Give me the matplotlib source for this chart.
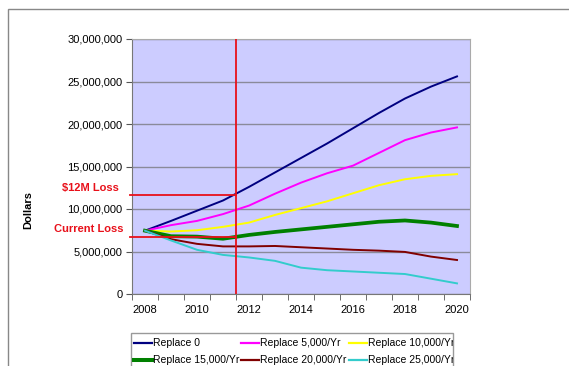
import matplotlib
matplotlib.use("Agg")
import matplotlib.pyplot as plt
from matplotlib.patches import Rectangle
from matplotlib.lines import Line2D
from matplotlib.ticker import FuncFormatter
from matplotlib.transforms import Bbox, TransformedBbox
import numpy as np

plt.rcParams['font.family'] = ['Liberation Sans', 'DejaVu Sans']

years = [2008, 2009, 2010, 2011, 2012, 2013, 2014, 2015, 2016, 2017, 2018, 2019, 2020]

# millions of dollars
replace_0 = [7.45, 8.6, 9.8, 11.0, 12.6, 14.3, 16.0, 17.7, 19.5, 21.3, 23.0, 24.4, 25.6]
replace_5k = [7.45, 8.1, 8.6, 9.4, 10.4, 11.8, 13.1, 14.2, 15.1, 16.6, 18.1, 19.0, 19.6]
replace_10k = [7.45, 7.35, 7.5, 7.9, 8.4, 9.3, 10.1, 10.9, 11.85, 12.8, 13.5, 13.9, 14.1]
replace_15k = [7.45, 6.8, 6.75, 6.5, 6.95, 7.3, 7.6, 7.9, 8.2, 8.5, 8.65, 8.4, 8.0]
replace_20k = [7.45, 6.45, 5.9, 5.6, 5.6, 5.65, 5.5, 5.35, 5.2, 5.1, 4.95, 4.4, 4.0]
replace_25k = [7.45, 6.3, 5.2, 4.6, 4.3, 3.9, 3.1, 2.8, 2.65, 2.5, 2.35, 1.8, 1.25]

labels = ['Replace 0', 'Replace 5,000/Yr', 'Replace 10,000/Yr',
          'Replace 15,000/Yr', 'Replace 20,000/Yr', 'Replace 25,000/Yr']
colors = ['#000080', '#FF00FF', '#FFFF00', '#008000', '#800000', '#33CCCC']
widths = [1.4, 1.4, 1.4, 2.7, 1.4, 1.4]
series = [replace_0, replace_5k, replace_10k, replace_15k, replace_20k, replace_25k]

loss_12m = 11.65e6
current_loss = 6.65e6
cut_year = 2011.5

W, H = 569, 366
fig = plt.figure(figsize=(W / 100, H / 100), dpi=100)

# outer chart border (cropped on right / bottom)
fig.patches.append(Rectangle((8 / W, -0.2), 1.2, 1 - 9 / H + 0.2, transform=fig.transFigure,
                             fill=False, edgecolor='#888888', lw=1))

ax = fig.add_axes([132 / W, 1 - 294 / H, (470 - 132) / W, (294 - 39) / H])
ax.set_facecolor('#CCCCFF')

x = np.arange(len(years))
for vals, lab, c, lw in zip(series, labels, colors, widths):
    ax.plot(x, np.array(vals) * 1e6, color=c, lw=lw, label=lab, zorder=3)

ax.set_xlim(-0.5, len(years) - 0.5)
ax.set_ylim(0, 30e6)
ax.set_yticks(np.arange(0, 30e6 + 1, 5e6))
ax.yaxis.set_major_formatter(FuncFormatter(lambda v, p: '{:,.0f}'.format(v)))
ax.yaxis.grid(True, color='#8a8a9a', lw=1)
ax.set_axisbelow(True)

ax.set_xticks(x[::2])
ax.set_xticklabels([str(y) for y in years[::2]])
ax.set_xticks(np.arange(-0.5, len(years)), minor=True)
ax.tick_params(axis='x', which='major', length=0, pad=8, labelsize=8)
ax.tick_params(axis='x', which='minor', length=4, color='#555555')
ax.tick_params(axis='y', length=4, pad=3, labelsize=8, color='#555555')

for s in ['top', 'right']:
    ax.spines[s].set_color('#aaaaaa')
for s in ['left', 'bottom']:
    ax.spines[s].set_color('#777777')

ax.set_ylabel('Dollars', fontsize=8, fontweight='bold')
ax.yaxis.set_label_coords(-99 / (470 - 132), 0.33)

# red marker lines
red = '#E8101A'
cut_x = years.index(2011) + (cut_year - 2011)
ax.axvline(cut_x, color=red, lw=1.3, zorder=4)
ax.plot([-0.58, cut_x], [loss_12m, loss_12m], color=red, lw=1.3, zorder=4, clip_on=False)
ax.plot([-0.58, cut_x], [current_loss, current_loss], color=red, lw=1.3, zorder=4, clip_on=False)

fig.text(119 / W, 1 - 188 / H, '$12M Loss', color=red, fontsize=8, fontweight='bold',
         ha='right', va='center')
fig.text(124 / W, 1 - 229 / H, 'Current Loss', color=red, fontsize=8, fontweight='bold',
         ha='right', va='center')

# legend box (cropped at bottom)
lx0, lx1, ly0 = 131, 453, 333
fig.patches.append(Rectangle((lx0 / W, -0.2), (lx1 - lx0) / W, 1 - ly0 / H + 0.2,
                             transform=fig.transFigure, fill=True, facecolor='white',
                             edgecolor='#999999', lw=1))
clip = TransformedBbox(Bbox.from_extents(lx0 / W, 0, lx1 / W, 1 - ly0 / H), fig.transFigure)
col_x = [134, 241, 349]
row_y = [343, 360]
for i, (lab, c, lw) in enumerate(zip(labels, colors, widths)):
    cx = col_x[i % 3]
    ry = 1 - row_y[i // 3] / H
    fig.lines.append(Line2D([cx / W, (cx + 18) / W], [ry, ry], transform=fig.transFigure,
                            color=c, lw=lw + 0.2))
    t = fig.text((cx + 19) / W, ry, lab, fontsize=7.5, ha='left', va='center')
    t.set_clip_box(clip)

fig.savefig('out.png', dpi=100)
